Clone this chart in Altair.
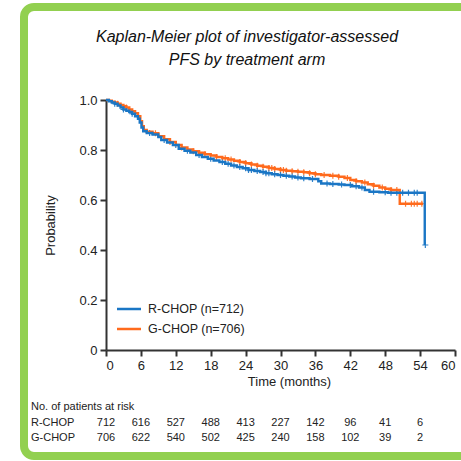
import altair as alt
import pandas as pd

# Treatment arms
arms = ["R-CHOP", "G-CHOP"]
arm_n = [712, 706]
arm_colors = ["#1a76c5", "#ff6a1c"]

# Kaplan-Meier step estimates (time in months, survival probability)
rchop_t = [0, 0.5, 1, 1.5, 2, 2.5, 3, 3.5, 4, 4.5, 5, 5.5, 5.8, 6.1, 6.4, 7, 8, 9, 9.5,
           10.5, 11.5, 12.5, 13.5, 14.5, 15.5, 16.5, 17.5, 18.5, 19.5, 20.5, 21.5, 22.5,
           23.5, 24.5, 25.5, 26.5, 27.5, 28.5, 29.5, 30.5, 31.5, 32.5, 33.5, 35, 36.5, 37,
           38.5, 40, 41, 42.3, 43.5, 44.5, 45.3, 47, 48.5, 54.8]
rchop_s = [1.0, 0.995, 0.99, 0.985, 0.978, 0.97, 0.962, 0.957, 0.952, 0.945, 0.935, 0.925,
           0.91, 0.89, 0.875, 0.868, 0.862, 0.852, 0.84, 0.83, 0.82, 0.805, 0.797, 0.79,
           0.78, 0.772, 0.765, 0.758, 0.752, 0.745, 0.738, 0.732, 0.727, 0.72, 0.716, 0.712,
           0.707, 0.703, 0.70, 0.697, 0.694, 0.69, 0.687, 0.684, 0.675, 0.666, 0.664, 0.662,
           0.66, 0.655, 0.65, 0.64, 0.633, 0.631, 0.629, 0.42]

gchop_t = [0, 0.5, 1, 1.5, 2, 2.5, 3, 3.5, 4, 4.5, 5, 5.5, 5.9, 6.2, 6.5, 7, 8, 9, 10, 11,
           12, 13, 14, 15, 16, 17, 18, 19, 20, 21, 22, 23, 24, 25, 26, 27, 28, 29, 30, 31,
           32, 33, 34, 35, 36, 37, 38.5, 40, 41, 42, 43, 44, 45, 46, 47, 48, 49, 50.5, 54.5]
gchop_s = [1.0, 0.997, 0.993, 0.99, 0.985, 0.98, 0.975, 0.97, 0.962, 0.955, 0.947, 0.935,
           0.915, 0.895, 0.88, 0.873, 0.867, 0.855, 0.843, 0.832, 0.82, 0.81, 0.802, 0.795,
           0.789, 0.783, 0.778, 0.772, 0.767, 0.762, 0.757, 0.752, 0.747, 0.742, 0.737,
           0.733, 0.728, 0.724, 0.72, 0.717, 0.715, 0.713, 0.711, 0.707, 0.703, 0.70, 0.697,
           0.693, 0.688, 0.68, 0.675, 0.67, 0.663, 0.657, 0.65, 0.645, 0.64, 0.585, 0.585]

# Censoring times
rchop_censor = [1.5, 3, 4.5, 7.5, 10, 12, 14, 16, 18, 20, 21, 22, 23, 24, 24.5, 25, 26, 27,
                27.5, 28, 29, 30, 31, 32, 33, 34, 35.5, 38, 39, 40.5, 42, 43, 44, 46, 48,
                49, 50, 51, 52, 53, 53.5, 54.9]
gchop_censor = [2, 3.5, 5, 8.5, 11, 13, 15, 17, 19, 20.5, 21.5, 23, 24, 25, 26, 27, 28,
                28.5, 29, 30, 30.5, 31, 32, 33, 34, 35, 36, 37.5, 39, 40, 41.5, 43, 44.5,
                46, 47.5, 49, 50, 51.5, 52.5, 53, 53.5, 54.3]

# Patients at risk
risk_times = [0, 6, 12, 18, 24, 30, 36, 42, 48, 54]
rchop_risk = [712, 616, 527, 488, 413, 227, 142, 96, 41, 6]
gchop_risk = [706, 622, 540, 502, 425, 240, 158, 102, 39, 2]

title_lines = ["Kaplan-Meier plot of investigator-assessed", "PFS by treatment arm"]
risk_header_text = "No. of patients at risk"
x_ticks = list(range(0, 61, 6))
y_ticks = [0, 0.2, 0.4, 0.6, 0.8, 1.0]

FONT = "Liberation Sans"
INK = "#222222"


def km_value(times, surv, t):
    v = surv[0]
    for ti, si in zip(times, surv):
        if ti <= t:
            v = si
    return v


curves = pd.concat([
    pd.DataFrame({"arm": "G-CHOP", "time": gchop_t, "surv": gchop_s}),
    pd.DataFrame({"arm": "R-CHOP", "time": rchop_t, "surv": rchop_s}),
])
censors = pd.concat([
    pd.DataFrame({"arm": "G-CHOP", "time": gchop_censor,
                  "surv": [km_value(gchop_t, gchop_s, t) for t in gchop_censor]}),
    pd.DataFrame({"arm": "R-CHOP", "time": rchop_censor,
                  "surv": [km_value(rchop_t, rchop_s, t) for t in rchop_censor]}),
])
risk_by_arm = {"R-CHOP": rchop_risk, "G-CHOP": gchop_risk}

x_scale = alt.Scale(domain=[0, 60], nice=False, zero=False)
y_scale = alt.Scale(domain=[0, 1], nice=False)
color_scale = alt.Scale(domain=arms, range=arm_colors)

x_axis = alt.Axis(
    values=x_ticks, format="d", title="Time (months)", grid=False, labelOverlap=False,
    domainColor="#333333", domainWidth=2, tickColor="#333333", tickWidth=2, tickSize=6,
    labelFont=FONT, labelFontSize=13, labelColor=INK, labelPadding=3,
    titleFont=FONT, titleFontSize=13, titleFontWeight="normal", titleColor=INK,
    titlePadding=3, titleX=183,
)
y_axis = alt.Axis(
    values=y_ticks, title="Probability", grid=False, labelOverlap=False,
    labelExpr="datum.value == 0 ? '0' : format(datum.value, '.1f')",
    domainColor="#333333", domainWidth=2, tickColor="#333333", tickWidth=2, tickSize=6,
    labelFont=FONT, labelFontSize=13, labelColor=INK, labelPadding=3,
    titleFont=FONT, titleFontSize=13, titleFontWeight="normal", titleColor=INK,
    titleX=-49,
)

lines = alt.Chart(curves).mark_line(interpolate="step-after", strokeWidth=2.4).encode(
    x=alt.X("time:Q", scale=x_scale, axis=x_axis),
    y=alt.Y("surv:Q", scale=y_scale, axis=y_axis),
    color=alt.Color("arm:N", scale=color_scale, legend=None),
    detail="arm:N",
)

crosses = alt.Chart(censors).mark_point(
    shape="M-1,0H1M0,-1V1", size=36, strokeWidth=1.2, filled=False, opacity=0.9
).encode(
    x=alt.X("time:Q", scale=x_scale, axis=x_axis),
    y=alt.Y("surv:Q", scale=y_scale, axis=y_axis),
    color=alt.Color("arm:N", scale=color_scale, legend=None),
)

text_style = dict(font=FONT, color=INK, baseline="middle")

# Key inside the plot: a short coloured line and a label per arm
legend_layers = []
for i, (arm, n, col) in enumerate(zip(arms, arm_n, arm_colors)):
    key_y = 209 + 20 * i
    key = pd.DataFrame({"label": [f"{arm} (n={n})"]})
    legend_layers.append(
        alt.Chart(key).mark_rule(color=col, strokeWidth=2.5).encode(
            x=alt.value(11), x2=alt.value(35), y=alt.value(key_y)
        )
    )
    legend_layers.append(
        alt.Chart(key).mark_text(fontSize=12.5, align="left", **text_style).encode(
            x=alt.value(42), y=alt.value(key_y), text="label:N"
        )
    )

# Number-at-risk table below the time axis
risk_layers = []
for i, arm in enumerate(arms):
    row_y = 323 + 15 * i
    rows = pd.DataFrame({"time": risk_times, "n": risk_by_arm[arm]})
    risk_layers.append(
        alt.Chart(rows).mark_text(fontSize=11, align="center", **text_style).encode(
            x=alt.X("time:Q", scale=x_scale, axis=x_axis), y=alt.value(row_y), text="n:Q"
        )
    )
    risk_layers.append(
        alt.Chart(pd.DataFrame({"arm": [arm]})).mark_text(
            fontSize=11, align="left", **text_style
        ).encode(x=alt.value(-75), y=alt.value(row_y), text="arm:N")
    )

risk_header = alt.Chart(pd.DataFrame({"t": [risk_header_text]})).mark_text(
    fontSize=11, align="left", **text_style
).encode(x=alt.value(-75), y=alt.value(307), text="t:N")

# Two-line italic heading
title_layers = [
    alt.Chart(pd.DataFrame({"t": [line]})).mark_text(
        fontSize=16, fontStyle="italic", align="center", font=FONT, color="#111111",
        baseline="middle",
    ).encode(x=alt.value(141), y=alt.value(-63 + 23 * i), text="t:N")
    for i, line in enumerate(title_lines)
]

frame = alt.Chart(pd.DataFrame({"k": [0]})).mark_rect(
    filled=False, stroke="#92D050", strokeWidth=8, cornerRadius=10
).encode(x=alt.value(-82), x2=alt.value(366), y=alt.value(-93), y2=alt.value(356))

chart = (
    alt.layer(frame, crosses, lines, *legend_layers, *risk_layers, risk_header,
              *title_layers)
    .properties(
        width=349, height=250,
        autosize=alt.AutoSizeParams(type="none"),
        padding={"left": 106, "top": 100, "right": 6, "bottom": 111},
        background="white",
    )
    .configure_view(stroke=None)
)

chart.save("out.html", embed_options={"renderer": "svg", "actions": False})
